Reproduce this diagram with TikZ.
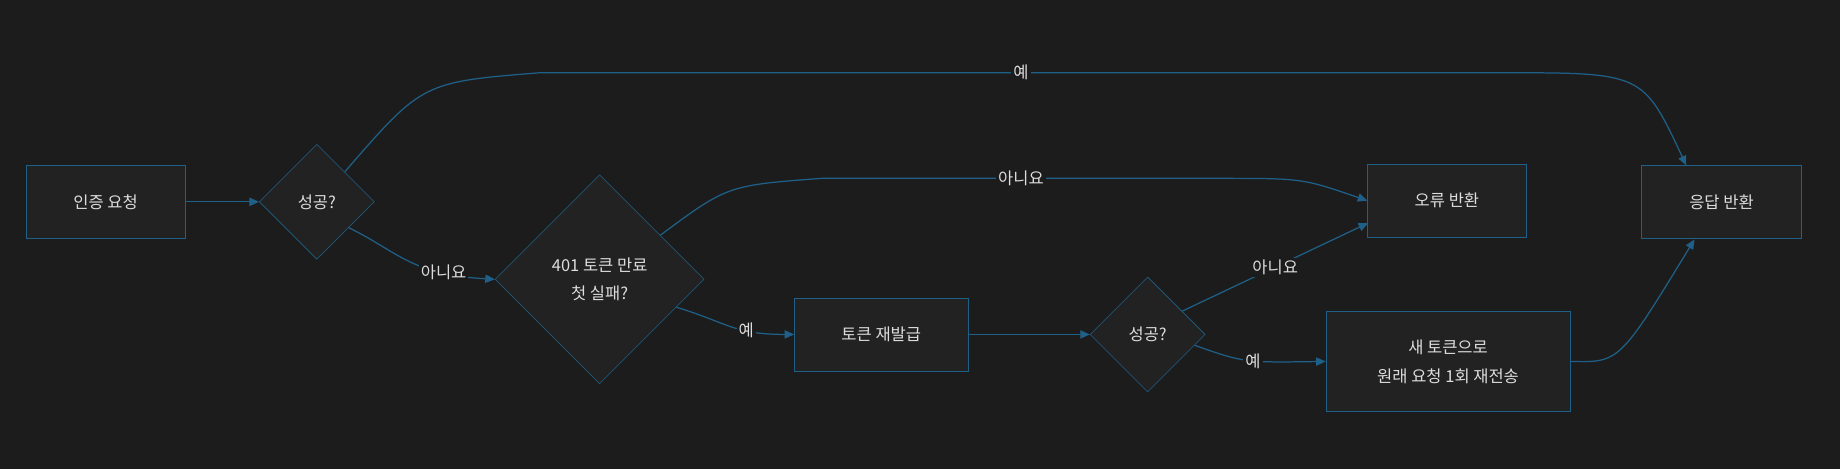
\documentclass[tikz,border=0pt]{standalone}
\usepackage{fontspec}
\setmainfont{Noto Sans CJK KR}
\usetikzlibrary{shapes.geometric,arrows.meta}
\definecolor{bgc}{HTML}{1C1C1C}
\definecolor{nodefill}{HTML}{222222}
\definecolor{edgec}{HTML}{1F6088}
\definecolor{txtc}{HTML}{DDDDDD}
\begin{document}
\begin{tikzpicture}[x=0.03cm, y=-0.03cm, font=\fontsize{12}{21}\selectfont, text=txtc,
  block/.style={rectangle, draw=edgec, fill=nodefill, inner sep=0pt, align=center},
  decision/.style={diamond, draw=edgec, fill=nodefill, inner sep=0pt, align=center},
  edge/.style={draw=edgec, line width=0.9pt, -{Triangle[length=7pt, width=6pt]}},
  lbl/.style={fill=bgc, inner sep=1.5pt}]
  \fill[bgc] (0,0) rectangle (1568,400);
  {
  \node[block, minimum width=135*0.03cm, minimum height=62*0.03cm] (req) at (90,172) {인증 요청};
  \node[decision, minimum width=98*0.03cm, minimum height=98*0.03cm] (ok1) at (270,172) {성공?};
  \node[decision, minimum width=178*0.03cm, minimum height=178*0.03cm] (exp) at (511,238) {401 토큰 만료\\첫 실패?};
  \node[block, minimum width=148*0.03cm, minimum height=62*0.03cm] (renew) at (751,285) {토큰 재발급};
  \node[decision, minimum width=98*0.03cm, minimum height=98*0.03cm] (ok2) at (978,285) {성공?};
  \node[block, minimum width=135*0.03cm, minimum height=62*0.03cm] (err) at (1233,171) {오류 반환};
  \node[block, minimum width=208*0.03cm, minimum height=85*0.03cm] (retry) at (1234,308) {새 토큰으로\\원래 요청 1회 재전송};
  \node[block, minimum width=136*0.03cm, minimum height=62*0.03cm] (resp) at (1467,172) {응답 반환};
  \coordinate (topl) at (460,62);
  \coordinate (topr) at (1280,62);
  \coordinate (midl) at (700,152);
  \coordinate (midr) at (1040,152);

  \draw[edge] (req) -- (ok1);
  \draw[edge] (ok1.47) .. controls (360,70) .. (topl) -- node[lbl] {예} (topr) .. controls (1400,62) .. (1437,141);
  \draw[edge] (ok1.-39) .. controls (340,215) and (350,234) .. node[lbl, pos=0.75] {아니요} (exp.west);
  \draw[edge] (exp.36) .. controls (620,158) .. (midl) -- node[lbl] {아니요} (midr) .. controls (1110,152) .. (err.west);
  \draw[edge] (exp.-20) .. controls (620,275) and (625,285) .. node[lbl, pos=0.65] {예} (renew.west);
  \draw[edge] (renew) -- (ok2);
  \draw[edge] (ok2.34) -- node[lbl] {아니요} (1166,190);
  \draw[edge] (ok2.-13) .. controls (1060,309) .. node[lbl, pos=0.55] {예} (retry.west);
  \draw[edge] (retry.east) .. controls (1380,309) .. (1444,204);
  }
\end{tikzpicture}
\end{document}
